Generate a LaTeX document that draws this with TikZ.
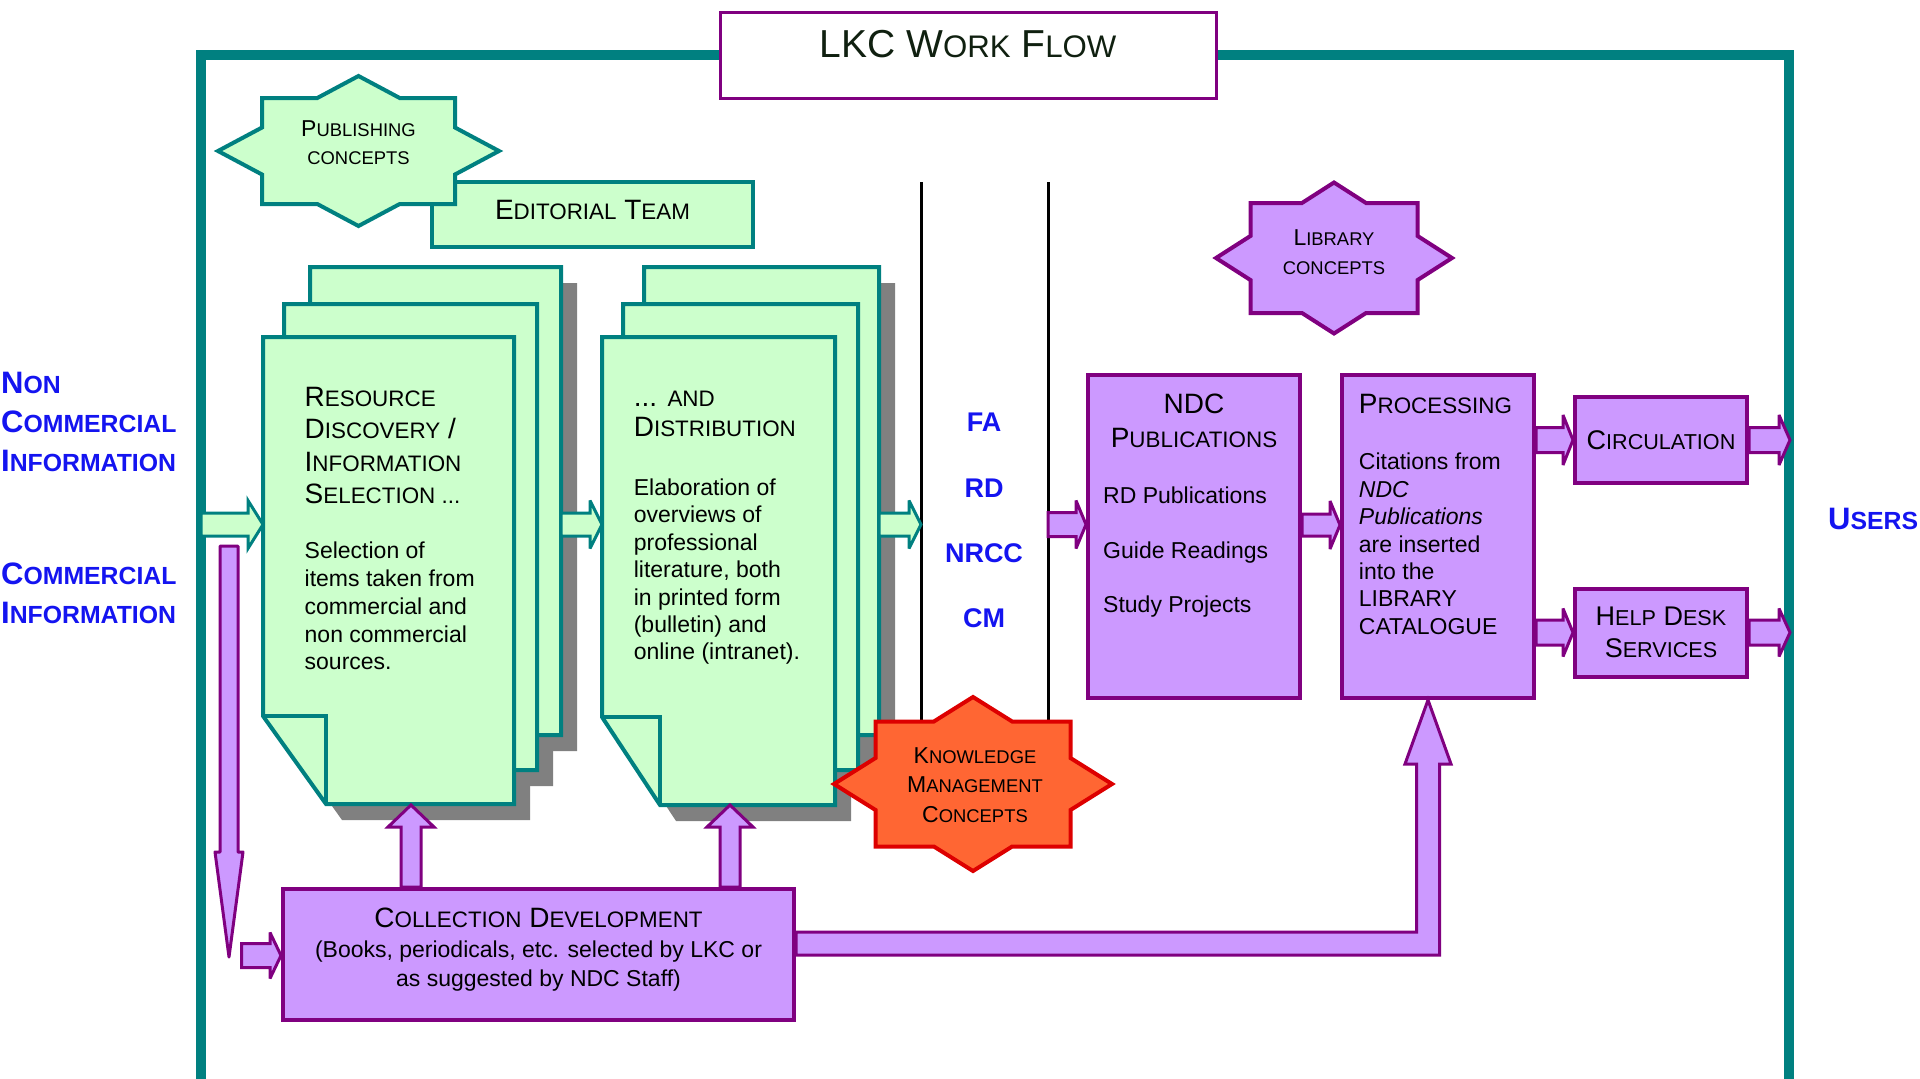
\documentclass[tikz,border=0pt]{standalone}
\usepackage{fontspec}
\setmainfont{Liberation Sans}
\usepackage{graphicx}
\usetikzlibrary{calc}
\definecolor{teal4}{HTML}{008080}
\definecolor{lgreen}{HTML}{CCFFCC}
\definecolor{purp}{HTML}{800080}
\definecolor{lpurp}{HTML}{CC99FF}
\definecolor{kmred}{HTML}{FF6633}
\definecolor{kmborder}{HTML}{DD0000}
\definecolor{blue1}{HTML}{1414F0}
\definecolor{shadowgray}{HTML}{808080}
\definecolor{titletext}{HTML}{102010}
\newcommand\smc[1]{\scalebox{0.8}{#1}}
\newcommand\fs[2]{\fontsize{#1}{#2}\selectfont}
% block arrows: #1 start, #2 end, #3 shaft half width, #4 head half width, #5 head length, #6 style
\newcommand\rarrow[6]{\draw[#6] let \p1=(#1),\p2=(#2) in (\x1,\y1+#3pt) -- (\x2-#5pt,\y1+#3pt) -- (\x2-#5pt,\y1+#4pt) -- (\x2,\y1) -- (\x2-#5pt,\y1-#4pt) -- (\x2-#5pt,\y1-#3pt) -- (\x1,\y1-#3pt) -- cycle;}
\newcommand\uarrow[6]{\draw[#6] let \p1=(#1),\p2=(#2) in (\x1-#3pt,\y1) -- (\x1-#3pt,\y2-#5pt) -- (\x1-#4pt,\y2-#5pt) -- (\x1,\y2) -- (\x1+#4pt,\y2-#5pt) -- (\x1+#3pt,\y2-#5pt) -- (\x1+#3pt,\y1) -- cycle;}
\newcommand\darrow[6]{\draw[#6] let \p1=(#1),\p2=(#2) in (\x1-#3pt,\y1) -- (\x1-#3pt,\y2+#5pt) -- (\x1-#4pt,\y2+#5pt) -- (\x1,\y2) -- (\x1+#4pt,\y2+#5pt) -- (\x1+#3pt,\y2+#5pt) -- (\x1+#3pt,\y1) -- cycle;}
% sheet with folded (cut) bottom-left corner: #1 style, #2 L, #3 T, #4 R, #5 B, #6 fold dx, #7 fold dy
\newcommand\cutsheet[7]{\path[#1] (#2,#3) -- (#4,#3) -- (#4,#5) -- (#2+#6,#5) -- (#2,#5-#7) -- cycle;}
% eight point star = union of rectangle (a,b) and diamond (A,B)
\newcommand\eightstar[7]{%
 \pgfmathsetmacro\starsx{#6*(1-#5/#7)}%
 \pgfmathsetmacro\starsy{#7*(1-#4/#6)}%
 \draw[#1] (#2,#3-#7) -- (#2+\starsx,#3-#5) -- (#2+#4,#3-#5) -- (#2+#4,#3-\starsy) -- (#2+#6,#3) -- (#2+#4,#3+\starsy) -- (#2+#4,#3+#5) -- (#2+\starsx,#3+#5) -- (#2,#3+#7) -- (#2-\starsx,#3+#5) -- (#2-#4,#3+#5) -- (#2-#4,#3+\starsy) -- (#2-#6,#3) -- (#2-#4,#3-\starsy) -- (#2-#4,#3-#5) -- (#2-\starsx,#3-#5) -- cycle;}
\begin{document}
\begin{tikzpicture}[x=1pt,y=-1pt,
  gsheet/.style={draw=teal4, fill=lgreen, line width=4pt, line join=miter},
  sheetshadow/.style={fill=shadowgray, draw=none},
  gbox/.style={rectangle, draw=teal4, fill=lgreen, line width=4pt, inner sep=0pt},
  pbox/.style={rectangle, draw=purp, fill=lpurp, line width=4pt, inner sep=0pt},
  garrow/.style={draw=teal4, fill=lgreen, line width=3pt, line join=miter, miter limit=4},
  parrow/.style={draw=purp, fill=lpurp, line width=3pt, line join=miter, miter limit=4},
  gstar/.style={draw=teal4, fill=lgreen, line width=4pt, line join=miter},
  pstar/.style={draw=purp, fill=lpurp, line width=4pt, line join=miter},
  kmstar/.style={draw=kmborder, fill=kmred, line width=4pt, line join=miter},
  txt/.style={inner sep=0pt, text=black},
  bluetxt/.style={inner sep=0pt, text=blue1}]
\useasboundingbox (0,0) rectangle (1920,1079);

% frame
\coordinate (frameBL) at (201,1100);
\coordinate (frameTL) at (201,55);
\coordinate (frameTR) at (1789,55);
\coordinate (frameBR) at (1789,1100);
\coordinate (frameR) at (1790,0);
\draw[teal4, line width=10pt, line join=miter] (frameBL) -- (frameTL) -- (frameTR) -- (frameBR);

% title
\node[rectangle, draw=purp, fill=white, line width=3pt, minimum width=496pt, minimum height=86pt, inner sep=0pt, font=\fs{39}{44}, text=titletext] (title) at (968,55) {\raisebox{0pt}[\height][22pt]{LKC W\smc{ORK} F\smc{LOW}}};

% editorial team and publishing concepts
\node[gbox, minimum width=321pt, minimum height=65pt, font=\fs{28}{32}] (edit) at (592.5,214.5) {\raisebox{0pt}[\height][9pt]{E\smc{DITORIAL} T\smc{EAM}}};
\eightstar{gstar}{358.5}{151}{96.5}{53}{140.5}{75}
\node[txt, font=\fs{23}{28.3}, align=center] (pubc) at (358.5,142.5) {P\smc{UBLISHING}\\\smc{CONCEPTS}};

% stack 1 shadows
\cutsheet{sheetshadow}{326}{283}{577}{751}{63}{88}
\cutsheet{sheetshadow}{300}{320}{553}{786}{63}{88}
\cutsheet{sheetshadow}{279}{353}{530}{820}{63}{88}
% stack 2 shadows
\cutsheet{sheetshadow}{660}{283}{895}{751}{58}{88}
\cutsheet{sheetshadow}{639}{320}{874}{786}{58}{88}
\cutsheet{sheetshadow}{618}{353}{851}{821}{58}{88}
% stack 1 sheets
\cutsheet{gsheet}{310}{267}{561}{735}{63}{88}
\cutsheet{gsheet}{284}{304}{537}{770}{63}{88}
\cutsheet{gsheet}{263}{337}{514}{804}{63}{88}
\draw[teal4, line width=4pt] (263,716) -- (326,716) -- (326,804);
% stack 2 sheets
\cutsheet{gsheet}{644}{267}{879}{735}{58}{88}
\cutsheet{gsheet}{623}{304}{858}{770}{58}{88}
\cutsheet{gsheet}{602}{337}{835}{805}{58}{88}
\draw[teal4, line width=4pt] (602,717) -- (660,717) -- (660,805);

% stack texts
\node[txt, font=\fs{28}{32.5}, align=left, anchor=north west] (reshead) at (304.5,387) {R\smc{ESOURCE}\\D\smc{ISCOVERY} /\\I\smc{NFORMATION}\\S\smc{ELECTION ...}};
\node[txt, font=\fs{23}{27.75}, align=left, anchor=north west] (resbody) at (304.5,542) {Selection of\\items taken from\\commercial and\\non commercial\\sources.};
\node[txt, font=\fs{28}{30}, align=left, anchor=north west] (disthead) at (633.6,390.6) {... \smc{AND}\\D\smc{ISTRIBUTION}};
\node[txt, font=\fs{23}{27.4}, align=left, anchor=north west] (distbody) at (633.6,478.6) {Elaboration of\\overviews of\\professional\\literature, both\\in printed form\\(bulletin) and\\online (intranet).};

% black separator lines
\coordinate (l1t) at (921,182);
\coordinate (l1b) at (921,760);
\coordinate (l2t) at (1048,182);
\coordinate (l2b) at (1048,760);
\draw[black, line width=3pt] (l1t) -- (l1b);
\draw[black, line width=3pt] (l2t) -- (l2b);
\node[txt, text=blue1, font=\bfseries\fs{27}{65.3}, align=center, anchor=north] (codes) at (984,413) {FA\\RD\\NRCC\\CM};

% knowledge management star
\eightstar{kmstar}{973}{784}{97.5}{62.5}{139}{87}
\node[txt, font=\fs{23}{29.5}, align=center] (km) at (975,785) {K\smc{NOWLEDGE}\\M\smc{ANAGEMENT}\\C\smc{ONCEPTS}};

% library concepts star
\eightstar{pstar}{1334}{258}{83.5}{55}{118}{75.5}
\node[txt, font=\fs{23}{28.5}, align=center] (libc) at (1334,252) {L\smc{IBRARY}\\\smc{CONCEPTS}};

% purple boxes
\node[pbox, minimum width=212pt, minimum height=323pt] (ndc) at (1194,536.5) {};
\node[txt, font=\fs{28}{34}, align=center, anchor=north] (ndchead) at (1194,394) {NDC\\P\smc{UBLICATIONS}};
\node[txt, font=\fs{23}{54.4}, align=left, anchor=north west] (ndcitems) at (1103,487) {RD Publications\\Guide Readings\\Study Projects};

\node[pbox, minimum width=192pt, minimum height=323pt] (proc) at (1438,536.5) {};
\node[txt, font=\fs{28}{34}, anchor=north west] (prochead) at (1358.7,394) {P\smc{ROCESSING}};
\node[txt, font=\fs{23}{27.4}, align=left, anchor=north west] (procbody) at (1358.7,453) {Citations from\\\textit{NDC}\\\textit{Publications}\\are inserted\\into the\\LIBRARY\\CATALOGUE};

\node[pbox, minimum width=172pt, minimum height=86pt, font=\fs{27}{31}] (circ) at (1661,440) {C\smc{IRCULATION}};
\node[pbox, minimum width=172pt, minimum height=88pt, font=\fs{27}{31.5}, align=center] (help) at (1661,632.5) {H\smc{ELP} D\smc{ESK}\\S\smc{ERVICES}};

\node[pbox, minimum width=511pt, minimum height=131pt] (cd) at (538.5,954.5) {};
\node[txt, font=\fs{28}{32}, anchor=north] (cdhead) at (538.5,908) {C\smc{OLLECTION} D\smc{EVELOPMENT}};
\node[txt, font=\fs{23}{28.7}, align=center, anchor=north] (cdbody) at (538.5,941) {(Books, periodicals, etc. selected by LKC or\\as suggested by NDC Staff)};

% side labels
\node[bluetxt, font=\bfseries\fs{31}{39}, align=left, anchor=west] (noncomm) at (1,422) {N\smc{ON}\\C\smc{OMMERCIAL}\\I\smc{NFORMATION}};
\node[bluetxt, font=\bfseries\fs{31}{38.6}, align=left, anchor=west] (comm) at (1,593) {C\smc{OMMERCIAL}\\I\smc{NFORMATION}};
\node[bluetxt, font=\bfseries\fs{31}{36}, anchor=west] (users) at (1828,519) {U\smc{SERS}};

% green block arrows
\coordinate (ga1s) at (201,524.5);
\coordinate (s1w) at (263,524.5);
\coordinate (ga2s) at (561,524.5);
\coordinate (s2w) at (602,524.5);
\coordinate (ga3s) at (879,524.5);
\coordinate (l1m) at (921,524.5);
\rarrow{ga1s}{s1w}{11.5}{24}{15}{garrow}
\rarrow{ga2s}{s2w}{11.5}{24}{12}{garrow}
\rarrow{ga3s}{l1m}{11.5}{24}{12}{garrow}

% purple block arrows
\coordinate (l2m) at (1048,524.5);
\rarrow{l2m}{ndc.west}{12}{24}{10}{parrow}
\rarrow{$(ndc.east)+(0,-11.5)$}{proc.west}{11}{24}{10}{parrow}
\rarrow{$(proc.east|-circ.west)$}{circ.west}{12.5}{25}{10}{parrow}
\rarrow{$(proc.east|-help.west)$}{help.west}{12.5}{24}{10}{parrow}
\rarrow{circ.east}{frameR}{12.5}{25}{11}{parrow}
\rarrow{help.east}{frameR}{12.5}{24}{11}{parrow}

% collection development up arrows
\coordinate (u1t) at (411,805);
\coordinate (u2t) at (730,805);
\uarrow{$(cd.north-|u1t)$}{u1t}{10}{23}{22}{parrow}
\uarrow{$(cd.north-|u2t)$}{u2t}{10}{23}{22}{parrow}

% collection development -> processing (L shaped)
\coordinate (pinx) at (1428,0);
\coordinate (procin) at (proc.south-|pinx);
\draw[parrow] let \p1=($(cd.east)+(0,-11)$), \p2=(procin) in
  (\x1,\y1+11.5pt) -- (\x2-11.5pt,\y1+11.5pt) -- (\x2-11.5pt,\y2-64pt) -- (\x2-23pt,\y2-64pt) -- (\x2,\y2) -- (\x2+23pt,\y2-64pt) -- (\x2+11.5pt,\y2-64pt) -- (\x2+11.5pt,\y1-11.5pt) -- (\x1,\y1-11.5pt) -- cycle;

% left vertical arrow and entry into collection development
\coordinate (dtop) at (229,546);
\coordinate (dtip) at (229,957);
\darrow{dtop}{dtip}{9}{14}{105}{parrow, line join=round}
\coordinate (sas) at (241.7,955.5);
\rarrow{sas}{cd.west}{12}{23}{11}{parrow}
\end{tikzpicture}
\end{document}
